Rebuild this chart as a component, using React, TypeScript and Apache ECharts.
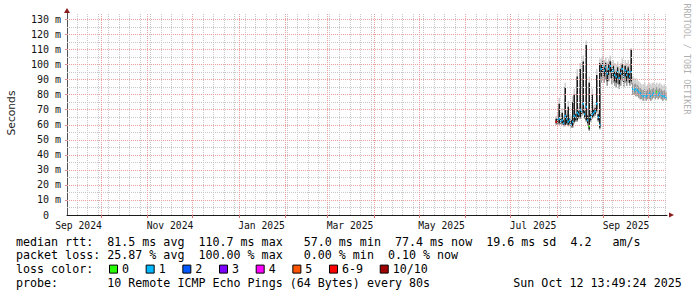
import React, { useEffect, useRef } from 'react';
import * as echarts from 'echarts';

const DAY = 86400000;
const X_MIN = Date.UTC(2024, 8, 8, 8, 0, 0);
const X_MAX = X_MIN + 400 * DAY;
const Y_MAX = 134.3;
const FIRST_DAY = Date.UTC(2025, 6, 31, 12);

// daily smoke: lowest ping, highest ping, dense core low/high, median, lost pings (of 10)
const pingMin = [60, 60, 60, 60, 60, 59, 59, 60, 59, 60, 58, 58, 61, 62, 62, 64, 64, 66, 67, 64, 62, 60, 56, 62, 64, 65, 66, 68, 62, 57,
  88, 90, 88, 90, 86, 89, 91, 87, 88, 86, 85, 87, 84, 86, 89, 85, 88, 86, 88, 86, 87,
  80, 80, 79, 79, 78, 77, 77, 76, 77, 76, 77, 77, 76, 77, 78, 77, 78, 77, 78, 77, 76, 77, 76];
const pingMax = [66, 68, 78, 67, 71, 66, 88, 70, 76, 67, 66, 79, 84, 70, 97, 72, 101, 74, 106, 72, 116, 70, 92, 70, 84, 73, 74, 97, 70, 104,
  104, 106, 103, 105, 102, 104, 106, 102, 103, 101, 100, 102, 99, 101, 104, 100, 103, 101, 103, 100, 111,
  92, 91, 91, 90, 89, 88, 87, 87, 88, 86, 87, 88, 87, 88, 88, 87, 88, 87, 88, 87, 86, 87, 86];
const coreLow = [61, 61, 61, 61, 61, 60, 60, 61, 60, 61, 59, 59, 62, 63, 63, 65, 65, 67, 68, 65, 63, 61, 57, 63, 65, 66, 67, 69, 63, 58,
  92, 95, 92, 94, 89, 93, 95, 91, 92, 89, 88, 91, 87, 90, 93, 88, 92, 89, 91, 88, 89,
  null, null, null, null, null, null, null, null, null, null, null, null, null, null, null, null, null, null, null, null, null, null, null];
const coreHigh = [64, 65, 74, 64, 68, 63, 85, 66, 72, 64, 63, 75, 80, 67, 92, 69, 97, 71, 102, 69, 113, 66, 88, 67, 80, 70, 71, 93, 67, 101,
  100, 102, 98, 101, 96, 100, 102, 97, 99, 95, 95, 98, 94, 97, 100, 95, 99, 96, 98, 94, 110,
  null, null, null, null, null, null, null, null, null, null, null, null, null, null, null, null, null, null, null, null, null, null, null];
const medianRtt = [62, 63, 64, 62, 63, 61, 66, 64, 62, 63, 60, 62, 66, 65, 68, 67, 70, 69, 74, 67, 72, 63, 59, 65, 67, 68, 69, 74, 65, 60,
  97, 99, 96, 98, 94, 97, 99, 95, 96, 93, 92, 95, 91, 94, 97, 92, 96, 93, 95, 92, 95,
  84, 83, 84, 83, 82, 81, 80, 79, 80, 79, 80, 81, 79, 80, 81, 80, 82, 80, 81, 80, 79, 79, 78];
const lossCount = [7, 1, 1, 1, 1, 1, 1, 1, 1, 1, 1, 1, 1, 1, 1, 1, 1, 1, 1, 1, 1, 1, 0, 1, 1, 1, 1, 1, 1, 1,
  1, 1, 1, 1, 1, 1, 1, 1, 1, 1, 1, 1, 1, 1, 1, 1, 1, 1, 1, 1, 1,
  1, 1, 1, 1, 1, 1, 1, 1, 1, 1, 1, 1, 1, 1, 1, 1, 0, 1, 1, 1, 1, 1, 1];

const yLabelValues = [0, 10, 20, 30, 40, 50, 60, 70, 80, 90, 100, 110, 120, 130];
const monthLabels = ['Sep 2024', 'Nov 2024', 'Jan 2025', 'Mar 2025', 'May 2025', 'Jul 2025', 'Sep 2025'];
const MONTHS = ['Jan', 'Feb', 'Mar', 'Apr', 'May', 'Jun', 'Jul', 'Aug', 'Sep', 'Oct', 'Nov', 'Dec'];

const legendRows = [
  'median rtt:  81.5 ms avg  110.7 ms max   57.0 ms min  77.4 ms now  19.6 ms sd  4.2   am/s',
  'packet loss: 25.87 % avg  100.00 % max   0.00 % min  0.10 % now',
  'loss color:',
  'probe:       10 Remote ICMP Echo Pings (64 Bytes) every 80s',
];
const stampText = 'Sun Oct 12 13:49:24 2025';
const lossLabels = ['0', '1', '2', '3', '4', '5', '6-9', '10/10'];
const lossColors = ['#26ff00', '#00b8ff', '#0059ff', '#7e00ff', '#ff00ff', '#ff5500', '#ff0000', '#a10000'];

const MONO = '"DejaVu Sans Mono", monospace';
const CH = 7.02;

function lossIndex(n: number) {
  if (n <= 5) return n;
  if (n < 10) return 6;
  return 7;
}

export default function App() {
  const ref = useRef<HTMLDivElement>(null);
  useEffect(() => {
    if (!ref.current) return;
    const chart = echarts.init(ref.current, undefined, { renderer: 'svg' });

    const labelTimes = monthLabels.map((s) => {
      const [m, y] = s.split(' ');
      return Date.UTC(+y, MONTHS.indexOf(m), 16);
    });
    const monthStarts: number[] = [];
    {
      const d0 = new Date(X_MIN);
      let y = d0.getUTCFullYear();
      let m = d0.getUTCMonth() + 1;
      for (;;) {
        const t = Date.UTC(y, m, 1);
        if (t > X_MAX) break;
        monthStarts.push(t);
        m++;
        if (m > 11) { m = 0; y++; }
      }
    }
    const sundays: number[] = [];
    {
      const d0 = new Date(X_MIN);
      let t = Date.UTC(d0.getUTCFullYear(), d0.getUTCMonth(), d0.getUTCDate() + 1);
      while (new Date(t).getUTCDay() !== 0) t += DAY;
      for (; t <= X_MAX; t += 7 * DAY) sundays.push(t);
    }

    const minorStyle = { color: '#c8c8c8', width: 1, type: [1, 1] as any };
    const majorStyle = { color: '#eba0a0', width: 1, type: [1, 1] as any };
    const lines: any[] = [];
    sundays.forEach((t) => lines.push({ xAxis: t, lineStyle: minorStyle }));
    for (let v = 5; v < Y_MAX; v += 10) lines.push({ yAxis: v, lineStyle: minorStyle });
    monthStarts.forEach((t) => lines.push({ xAxis: t, lineStyle: majorStyle }));
    yLabelValues.filter((v) => v > 0).forEach((v) => lines.push({ yAxis: v, lineStyle: majorStyle }));

    const data = pingMin.map((_, i) => [
      FIRST_DAY + i * DAY,
      pingMin[i],
      pingMax[i],
      coreLow[i],
      coreHigh[i],
      medianRtt[i],
      lossCount[i],
    ]);

    // legend swatch positions flow with label length
    const swatchX: number[] = [];
    let sx = 109.5;
    lossLabels.forEach((lab) => {
      swatchX.push(sx);
      sx += 36.67 + (lab.length - 1) * CH;
    });
    const rowY = (i: number) => 241.5 + i * 13.8;

    const option: any = {
      animation: false,
      backgroundColor: '#ffffff',
      grid: { left: 67, right: 30, top: 13, bottom: 82 },
      xAxis: {
        type: 'value',
        min: X_MIN,
        max: X_MAX,
        axisLine: { show: true, onZero: false, lineStyle: { color: '#1a1a1a', width: 1 } },
        axisTick: { show: true, customValues: monthStarts, length: 3, lineStyle: { color: '#d07070' } },
        axisLabel: {
          customValues: labelTimes,
          formatter: (v: number) => {
            const d = new Date(v);
            return `${MONTHS[d.getUTCMonth()]} ${d.getUTCFullYear()}`;
          },
          fontFamily: MONO,
          fontSize: 9.7,
          color: '#111',
          margin: 5,
        },
        splitLine: { show: false },
      },
      yAxis: {
        type: 'value',
        min: 0,
        max: Y_MAX,
        axisLine: { show: true, onZero: false, lineStyle: { color: '#555', width: 1 } },
        axisTick: { show: true, customValues: yLabelValues.filter((v) => v > 0), length: 2, lineStyle: { color: '#e08a8a' } },
        axisLabel: {
          customValues: yLabelValues,
          formatter: (v: number) => (v === 0 ? '{z|0}' : `${v} m`),
          rich: { z: { fontFamily: MONO, fontSize: 10, color: '#111', padding: [0, 12, 0, 0] } },
          fontFamily: MONO,
          fontSize: 10,
          color: '#111',
          margin: 6,
        },
        splitLine: { show: false },
      },
      series: [
        {
          type: 'line',
          data: [],
          silent: true,
          z: 1,
          markLine: {
            silent: true,
            symbol: ['none', 'none'],
            label: { show: false },
            animation: false,
            data: lines,
          },
          markPoint: {
            silent: true,
            animation: false,
            label: { show: false },
            itemStyle: { color: '#8b1d1d' },
            data: [
              { coord: [X_MAX, 0], symbol: 'triangle', symbolSize: [5, 5], symbolRotate: -90, symbolOffset: [4.5, 0] },
              { coord: [X_MIN, Y_MAX], symbol: 'triangle', symbolSize: [6, 5], symbolOffset: [0, -2.5] },
            ],
          },
        },
        {
          type: 'custom',
          z: 3,
          silent: true,
          data,
          encode: { x: 0, y: [1, 2] },
          renderItem: (params: any, api: any) => {
            const t = api.value(0);
            const lo = api.value(1);
            const hi = api.value(2);
            const cl = api.value(3);
            const ch = api.value(4);
            const med = api.value(5);
            const loss = api.value(6);
            const w = api.size([DAY, 0])[0];
            const pLo = api.coord([t, lo]);
            const pHi = api.coord([t, hi]);
            const midTop = api.coord([t, (med + hi) / 2]);
            const pMed = api.coord([t, med]);
            const x = pLo[0] - w / 2;
            const children: any[] = [
              { type: 'rect', shape: { x, y: pHi[1], width: w, height: pLo[1] - pHi[1] }, style: { fill: '#d0d0d0' } },
              { type: 'rect', shape: { x, y: midTop[1], width: w, height: pLo[1] - midTop[1] }, style: { fill: '#9a9a9a' } },
            ];
            if (isFinite(cl) && isFinite(ch)) {
              const pcl = api.coord([t, cl]);
              const pch = api.coord([t, ch]);
              children.push({ type: 'rect', shape: { x, y: pch[1], width: w, height: pcl[1] - pch[1] }, style: { fill: '#1c1c1c' } });
            }
            children.push({
              type: 'rect',
              shape: { x, y: pMed[1] - 1, width: w, height: 2 },
              style: { fill: lossColors[lossIndex(loss)] },
            });
            return { type: 'group', children };
          },
        },
      ],
      graphic: [
        {
          type: 'text',
          x: 11,
          y: 113,
          rotation: Math.PI / 2,
          style: { text: 'Seconds', font: '10.7px "DejaVu Sans", sans-serif', fill: '#222', align: 'center', verticalAlign: 'middle' },
        },
        {
          type: 'text',
          x: 686.5,
          y: 59,
          rotation: -Math.PI / 2,
          style: { text: 'RRDTOOL / TOBI OETIKER', font: `8.4px ${MONO}`, fill: '#b0b0b0', align: 'center', verticalAlign: 'middle' },
        },
        ...legendRows.map((row, i) => ({
          type: 'text',
          x: 16,
          y: rowY(i),
          style: { text: row, font: `11.66px ${MONO}`, fill: '#000', align: 'left', verticalAlign: 'middle' },
        })),
        {
          type: 'text',
          x: 513.3,
          y: rowY(3),
          style: { text: stampText, font: `11.66px ${MONO}`, fill: '#000', align: 'left', verticalAlign: 'middle' },
        },
        ...lossLabels.flatMap((lab, i) => [
          {
            type: 'rect',
            shape: { x: swatchX[i], y: rowY(2) - 4, width: 8, height: 8 },
            style: { fill: lossColors[i], stroke: '#000', lineWidth: 1 },
          },
          {
            type: 'text',
            x: swatchX[i] + 12.5,
            y: rowY(2),
            style: { text: lab, font: `11.66px ${MONO}`, fill: '#000', align: 'left', verticalAlign: 'middle' },
          },
        ]),
      ],
    };
    chart.setOption(option);
    return () => chart.dispose();
  }, []);
  return <div ref={ref} style={{ width: 697, height: 297, position: 'absolute', left: 0, top: 0 }} />;
}
